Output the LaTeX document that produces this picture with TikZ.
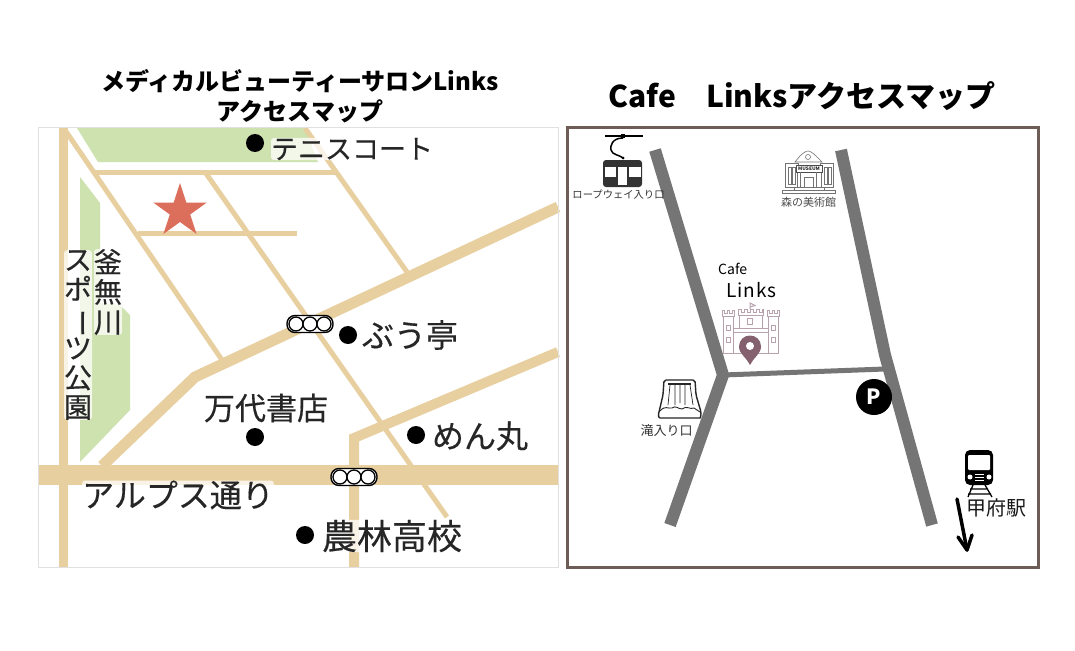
\documentclass[tikz,border=0pt]{standalone}
\usepackage{fontspec}
\setmainfont{Noto Sans CJK JP}
\newfontfamily\mapfont[FakeBold=0.35]{Noto Sans CJK JP}
\usetikzlibrary{arrows.meta}
\definecolor{road}{HTML}{E8CF9F}
\definecolor{park}{HTML}{CDE2AE}
\definecolor{starc}{HTML}{DB6F5B}
\definecolor{frame}{HTML}{6E5D57}
\definecolor{grayroad}{HTML}{757575}
\definecolor{mauve}{HTML}{B7A2AD}
\definecolor{pinc}{HTML}{85606F}
\definecolor{dark}{HTML}{333333}
\newcommand{\px}[1]{\fontsize{#1}{#1}\selectfont}
\tikzset{
  x=1pt,y=-1pt,
  wide/.style={road,line width=11pt},
  thin/.style={road,line width=5pt},
  place/.style={fill=black,circle,minimum size=18pt,inner sep=0pt},
  maplabel/.style={inner sep=0pt,text=black!85},
  halo/.style={fill=white,fill opacity=.75,text opacity=1,rounded corners=3pt},
  gray road/.style={grayroad,line width=12pt},
  ttl/.style={inner sep=0pt,font=\bfseries\px{24}},
  small/.style={inner sep=0pt,text=dark},
  castle/.style={draw=mauve,line width=1pt,fill=white},
  lightline/.style={draw=black!55,line width=.6pt,fill=white},
}
\newcommand{\signal}[2]{%
  \draw[black,line width=1.4pt,fill=white,rounded corners=8pt] (#1-23,#2-8.5) rectangle (#1+23,#2+8.5);
  \foreach \dx in {-14,0,14}{\draw[black,line width=1.3pt,fill=white] (#1+\dx,#2) circle (7pt);}}
\begin{document}
\begin{tikzpicture}
\useasboundingbox (0,0) rectangle (1075,650);
\fill[white] (0,0) rectangle (1075,650);
% titles
\node[ttl] (t1) at (300,81) {メディカルビューティーサロンLinks};
\node[ttl] (t2) at (300,111) {アクセスマップ};
\node[inner sep=0pt,font=\bfseries\px{30}] (t3) at (802,96) {Cafe　Linksアクセスマップ};
% left map
\fill[park] (77,128) -- (305,128) -- (318,162) -- (98,162) -- cycle;
\fill[park] (80,177) -- (100,203) -- (100,303) -- (120,305) -- (130,315) -- (130,410) -- (80,462) -- cycle;
\draw[road,line width=9pt] (63,127) -- (63,567);
\draw[road,line width=20pt] (38,475) -- (558,475);
\draw[thin] (65,130) -- (222,360);
\draw[thin] (93,172) -- (336,172);
\draw[thin] (138,233) -- (297,233);
\draw[thin] (205,172) -- (447,517);
\draw[thin] (305,128) -- (407,272);
\draw[wide,line join=miter] (558,207) -- (195,377) -- (102,466);
\draw[road,line width=10pt,line join=miter] (558,352) -- (354,438) -- (354,567);
\draw[black!12,line width=1pt] (38,127) rectangle (558,567);
\fill[starc] (180,183) -- (186.3,202.5) -- (206.8,202.5) -- (190.2,214.5) -- (196.6,234) -- (180,222) -- (163.4,234) -- (169.8,214.5) -- (153.2,202.5) -- (173.7,202.5) -- cycle;
\signal{310}{324}
\signal{354}{477}
\node[place] (d1) at (255,143) {};
\node[place] (d2) at (348,335) {};
\node[place] (d3) at (255,437) {};
\node[place] (d4) at (416,435) {};
\node[place] (d5) at (305,535) {};
\node[maplabel,halo,font=\mapfont\px{27}] (l1) at (352,149) {テニスコート};
\node[maplabel,font=\mapfont\px{32}] (l2) at (410,335) {ぶう亭};
\node[maplabel,font=\mapfont\px{31}] (l3) at (266,408) {万代書店};
\node[maplabel,font=\mapfont\px{32}] (l4) at (480,436) {めん丸};
\node[maplabel,halo,font=\mapfont\px{32}] (l5) at (178,495) {アルプス通り};
\node[maplabel,halo,font=\mapfont\px{35}] (l6) at (392,536) {農林高校};
\node[maplabel,halo,align=center,font=\mapfont\fontsize{28}{30}\selectfont] (l7) at (108,292) {釜\\無\\川};
\node[maplabel,halo,align=center,font=\mapfont\fontsize{28}{29.5}\selectfont] (l8) at (78,335) {ス\\ポ\\\rotatebox[origin=c]{-90}{ー}\\ツ\\公\\園};
% right map
\draw[frame,line width=3pt] (567,127) rectangle (1038,567);
\draw[gray road,line join=miter] (655,150) -- (723,375) -- (670,525);
\draw[gray road,line join=miter] (841,150) -- (885,355) -- (932,525);
\draw[grayroad,line width=5pt] (723,375) -- (885,369);
% ropeway
\draw[black,line width=1.2pt] (605,136) -- (643,136);
\fill[black] (621,134) rectangle (625,138);
\draw[black,line width=1.5pt] (623,138) .. controls (612,138) and (610,146) .. (611,150) .. controls (612,155) and (620,155) .. (623,158);
\fill[black] (623,158) circle (1.5pt);
\fill[dark,rounded corners=3pt] (603,160) rectangle (642,187);
\fill[white] (605,167) rectangle (616,177);
\fill[white] (618,167) rectangle (627,185);
\fill[white] (629,167) rectangle (641,177);
\node[small,font=\px{10.3}] (rope) at (618.5,195) {ロープウェイ入り口};
% museum
\draw[lightline] (785,163) rectangle (798,187);
\draw[lightline] (820,163) rectangle (833,187);
\draw[lightline] (797,172) rectangle (821,187);
\draw[lightline] (795,162) -- (800,156) .. controls (803,153) and (806,151) .. (808,151) .. controls (810,151) and (813,153) .. (816,156) -- (822,162) -- cycle;
\draw[lightline] (808,157) circle (2.5pt);
\draw[black!70,fill=white,line width=.6pt] (796,165) rectangle (822,172);
\foreach \xx in {788,792,824,828} {\draw[black!55,line width=.5pt] (\xx,167) rectangle (\xx+3,184);}
\foreach \xx in {800,816} {\draw[black!55,line width=.5pt] (\xx,172) -- (\xx,187);}
\draw[black!55,line width=.5pt] (804,177) rectangle (813,187);
\draw[lightline] (794,187) rectangle (824,190);
\draw[lightline] (782,190) rectangle (835,193);
\node[inner sep=0pt,font=\bfseries\px{4.8},text=black!85] (mus) at (809,168.5) {MUSEUM};
\node[small,font=\px{11},text=black!70] (mori) at (808.5,202) {森の美術館};
% cafe
\node[inner sep=0pt,anchor=west,font=\px{14}] (cafe) at (718,269) {Cafe};
\node[inner sep=0pt,anchor=west,font=\px{19}\addfontfeature{LetterSpace=5}] (links) at (726,290) {Links};
\draw[castle] (723,316) rectangle (733,353);
\draw[castle] (768,316) rectangle (778,353);
\draw[castle] (733,328) rectangle (768,353);
\draw[castle] (739,312) rectangle (762,328);
\draw[castle] (722,316) -- (722,310) -- (724.5,310) -- (724.5,313) -- (727,313) -- (727,310) -- (729.5,310) -- (729.5,313) -- (732,313) -- (732,310) -- (734,310) -- (734,316) -- cycle;
\draw[castle] (767,316) -- (767,310) -- (769.5,310) -- (769.5,313) -- (772,313) -- (772,310) -- (774.5,310) -- (774.5,313) -- (777,313) -- (777,310) -- (779,310) -- (779,316) -- cycle;
\draw[castle] (738,315) -- (738,309) -- (741,309) -- (741,312) -- (744,312) -- (744,309) -- (747,309) -- (747,312) -- (750,312) -- (750,309) -- (753,309) -- (753,312) -- (756,312) -- (756,309) -- (759,309) -- (759,312) -- (762,312) -- (762,309) -- (763,309) -- (763,315) -- cycle;
\draw[mauve,line width=1pt] (750,309) -- (750,303) -- (755,305.5) -- (750,307);
\draw[castle] (747.5,318) rectangle (752.5,324);
\foreach \yy in {325,337} {
  \draw[castle] (726,\yy) rectangle (730,\yy+5);
  \draw[castle] (771,\yy) rectangle (775,\yy+5);}
\draw[mauve,line width=1pt] (733,332) -- (768,332);
\fill[pinc] (750,365) .. controls (747,358) and (739,354) .. (739,346.5) .. controls (739,340) and (744,335.5) .. (750,335.5) .. controls (756,335.5) and (761,340) .. (761,346.5) .. controls (761,354) and (753,358) .. (750,365) -- cycle;
\fill[white] (750,346) circle (4pt);
% parking
\node[circle,fill=black,minimum size=36pt,inner sep=0pt,text=white,font=\bfseries\px{21}] (park) at (874,397) {P};
% waterfall
\draw[black!85,line width=1.4pt,rounded corners=2pt] (664,380) -- (695,380) -- (696,395) -- (701,412) .. controls (701,417) and (700,418) .. (698,418) -- (662,418) .. controls (659,418) and (658,416) .. (659,412) -- (663,395) -- cycle;
\draw[black!85,line width=2pt] (668,384) -- (691,384);
\draw[black!85,line width=.7pt] (670,385) -- (668,405) (675,385) -- (675,405) (680,385) -- (680,403) (685,385) -- (685,405) (690,385) -- (693,405);
\draw[black!85,line width=.9pt] (660,411) .. controls (665,405) and (668,409) .. (672,408) .. controls (676,405) and (678,409) .. (682,409) .. controls (687,405) and (690,410) .. (694,408) -- (700,412);
\node[small,font=\px{13}] (taki) at (666.5,431) {滝入り口};
% train
\fill[black,rounded corners=5pt] (965,450) rectangle (993,485);
\fill[white,rounded corners=1pt] (968,455) rectangle (990,470);
\fill[white] (970,477) circle (2.5pt) (989,477) circle (2.5pt);
\draw[white,line width=.7pt] (975,474) -- (984,474) (975,477) -- (984,477) (975,480) -- (984,480);
\draw[black,line width=1.3pt] (973,485) -- (968,497) (985,485) -- (992,497) (970,489) -- (988,489) (968,494) -- (991,494);
\node[inner sep=0pt,font=\px{20},text=black!90] (kofu) at (996,508) {甲府駅};
% arrow
\coordinate (a1) at (957,499);
\coordinate (a2) at (967,550);
\draw[black,line width=3.5pt,line cap=round] (a1) -- (a2);
\draw[black,line width=3.5pt,line cap=round,line join=round] (958,537) -- (a2) -- (972,535);
\end{tikzpicture}
\end{document}
